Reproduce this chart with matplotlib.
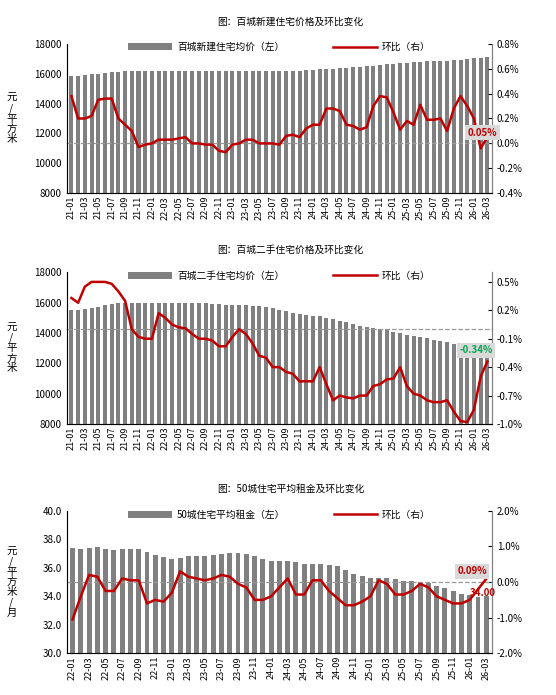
import matplotlib
matplotlib.use("Agg")
import matplotlib.pyplot as plt
from matplotlib.ticker import FuncFormatter

plt.rcParams['font.family'] = ['Noto Sans CJK SC', 'DejaVu Sans']

def months(y0, m0, n):
    out = []
    y, m = y0, m0
    for _ in range(n):
        out.append(f"{y:02d}-{m:02d}")
        m += 1
        if m > 12:
            m = 1; y += 1
    return out

months1 = months(21, 1, 63)
months3 = months(22, 1, 51)

new_price = [15850,15870,15900,15950,16000,16050,16100,16130,16160,16180,16190,16200,
             16200,16200,16200,16200,16200,16200,16200,16200,16200,16200,16200,16190,
             16190,16190,16190,16190,16190,16190,16190,16190,16200,16200,16210,16230,
             16260,16280,16310,16340,16370,16400,16430,16460,16490,16530,16580,16630,
             16680,16700,16720,16750,16790,16820,16840,16860,16880,16900,16940,16990,
             17040,17070,17100]
new_mom = [0.38,0.2,0.2,0.22,0.35,0.36,0.36,0.2,0.15,0.1,-0.03,-0.01,
           0.0,0.03,0.03,0.03,0.04,0.05,0.0,0.0,-0.01,-0.01,-0.06,-0.07,
           -0.01,0.0,0.03,0.03,0.0,0.0,0.0,-0.01,0.06,0.07,0.05,0.12,
           0.15,0.15,0.28,0.28,0.26,0.15,0.14,0.11,0.13,0.3,0.38,0.37,
           0.25,0.11,0.18,0.15,0.31,0.19,0.19,0.2,0.1,0.28,0.38,0.3,
           0.2,-0.04,0.05]

sec_price = [15500,15550,15600,15680,15750,15830,15900,15950,16000,16000,16000,16000,
             16000,16000,16000,16000,16000,16000,16000,15980,15950,15930,15900,15870,
             15850,15830,15820,15800,15770,15720,15650,15550,15450,15350,15280,15200,
             15150,15100,15000,14900,14800,14700,14600,14480,14400,14320,14280,14250,
             14100,14000,13900,13820,13750,13650,13550,13450,13380,13300,13220,13150,
             13000,12880,12750]
sec_mom = [0.33,0.28,0.45,0.5,0.5,0.5,0.48,0.4,0.3,0.0,-0.08,-0.1,
           -0.1,0.17,0.12,0.05,0.02,0.01,-0.05,-0.1,-0.1,-0.12,-0.18,-0.18,
           -0.08,0.0,-0.05,-0.15,-0.28,-0.3,-0.4,-0.4,-0.45,-0.47,-0.55,-0.55,
           -0.55,-0.4,-0.58,-0.75,-0.7,-0.72,-0.73,-0.7,-0.7,-0.6,-0.58,-0.53,
           -0.52,-0.4,-0.6,-0.68,-0.7,-0.75,-0.77,-0.77,-0.75,-0.87,-0.97,-0.98,
           -0.85,-0.5,-0.34]

rent = [37.4,37.3,37.4,37.45,37.35,37.25,37.3,37.3,37.3,37.1,36.9,36.75,
        36.65,36.7,36.8,36.8,36.85,36.9,36.95,37.05,37.05,37.0,36.8,36.6,
        36.5,36.5,36.5,36.4,36.3,36.3,36.3,36.2,36.1,35.85,35.6,35.4,
        35.3,35.3,35.3,35.2,35.1,35.05,35.0,34.9,34.75,34.55,34.35,34.15,
        34.1,33.95,34.0]
rent_mom = [-1.05,-0.4,0.2,0.15,-0.25,-0.25,0.1,0.05,0.05,-0.6,-0.5,-0.55,
            -0.3,0.3,0.15,0.1,0.05,0.1,0.2,0.15,-0.05,-0.15,-0.5,-0.5,
            -0.4,-0.15,0.1,-0.35,-0.35,0.05,0.05,-0.25,-0.45,-0.65,-0.65,-0.55,
            -0.4,0.05,-0.05,-0.35,-0.35,-0.25,-0.05,-0.15,-0.4,-0.5,-0.6,-0.6,
            -0.5,-0.2,0.09]

BAR = '#808080'
RED = '#c00000'
fig = plt.figure(figsize=(5.56, 6.95), dpi=100)

def panel(rect, title, cats, bars, line, barlab, ylim, yticks, yfmt, rlim, rticks, rfmt, ylabel, annots):
    ax = fig.add_axes(rect)
    x = list(range(len(cats)))
    b = ax.bar(x, bars, width=0.6, color=BAR, label=barlab, zorder=1)
    ax.set_ylim(*ylim)
    ax.set_yticks(yticks)
    ax.yaxis.set_major_formatter(FuncFormatter(yfmt))
    ax.set_xlim(-0.7, len(cats) - 0.3)
    ax.set_xticks(x[::2])
    ax.set_xticklabels(cats[::2], rotation=90, fontsize=6.5)
    ax.tick_params(axis='y', labelsize=7, length=0)
    ax.tick_params(axis='x', length=0, pad=2)
    ax.spines['top'].set_visible(False)
    for s in ['left', 'right', 'bottom']:
        ax.spines[s].set_color('#808080')
    ax2 = ax.twinx()
    ax2.axhline(0, color='#999999', ls='--', lw=0.9, zorder=2)
    l, = ax2.plot(x, line, color=RED, lw=1.8, label='环比（右）', zorder=3)
    ax2.set_ylim(*rlim)
    ax2.set_yticks(rticks)
    ax2.yaxis.set_major_formatter(FuncFormatter(rfmt))
    ax2.tick_params(axis='y', labelsize=7, length=3, direction='in')
    ax2.spines['top'].set_visible(False)
    ax2.spines['right'].set_color('#808080')
    ax.text(-0.13, 0.5, ylabel, transform=ax.transAxes, fontsize=7.5, va='center', ha='center', linespacing=1.0)
    fig.text(rect[0] + rect[2] / 2 + 0.02, rect[1] + rect[3] + 0.028, title, fontsize=7, ha='center')
    ax.legend([b, l], [barlab, '环比（右）'], loc='upper center', bbox_to_anchor=(0.5, 1.07), ncol=2,
              frameon=False, fontsize=7, handlelength=4.5, columnspacing=5, handletextpad=0.5)
    for (tx, ty, txt, col, boxed) in annots:
        kw = dict(boxstyle='square,pad=0.25', fc='#d9d9d9', ec='none') if boxed else None
        ax2.text(tx, ty, txt, color=col, fontsize=7, fontweight='bold', ha='center', va='center', bbox=kw)
    return ax, ax2

pct1 = lambda v, p: f"{v:.1f}%"
panel([0.12, 0.722, 0.765, 0.215], '图：百城新建住宅价格及环比变化', months1, new_price, new_mom,
      '百城新建住宅均价（左）', (8000, 18000), range(8000, 18001, 2000), lambda v, p: f"{int(v)}",
      (-0.4, 0.8), [-0.4, -0.2, 0, 0.2, 0.4, 0.6, 0.8], pct1, '元\n/\n平\n方\n米',
      [(61.3, 0.085, '0.05%', RED, True)])
panel([0.12, 0.39, 0.765, 0.218], '图：百城二手住宅价格及环比变化', months1, sec_price, sec_mom,
      '百城二手住宅均价（左）', (8000, 18000), range(8000, 18001, 2000), lambda v, p: f"{int(v)}",
      (-1.0, 0.6), [-1.0, -0.7, -0.4, -0.1, 0.2, 0.5], pct1, '元\n/\n平\n方\n米',
      [(60.3, -0.22, '-0.34%', '#00a651', True)])
panel([0.12, 0.06, 0.765, 0.205], '图：50城住宅平均租金及环比变化', months3, rent, rent_mom,
      '50城住宅平均租金（左）', (30, 40), [30, 32, 34, 36, 38, 40], lambda v, p: f"{v:.1f}",
      (-2.0, 2.0), [-2, -1, 0, 1, 2], pct1, '元\n/\n平\n方\n米\n/\n月',
      [(48.3, 0.3, '0.09%', RED, True), (49.6, -0.32, '34.00', RED, False)])

fig.savefig('out.png', dpi=100, facecolor='white')
